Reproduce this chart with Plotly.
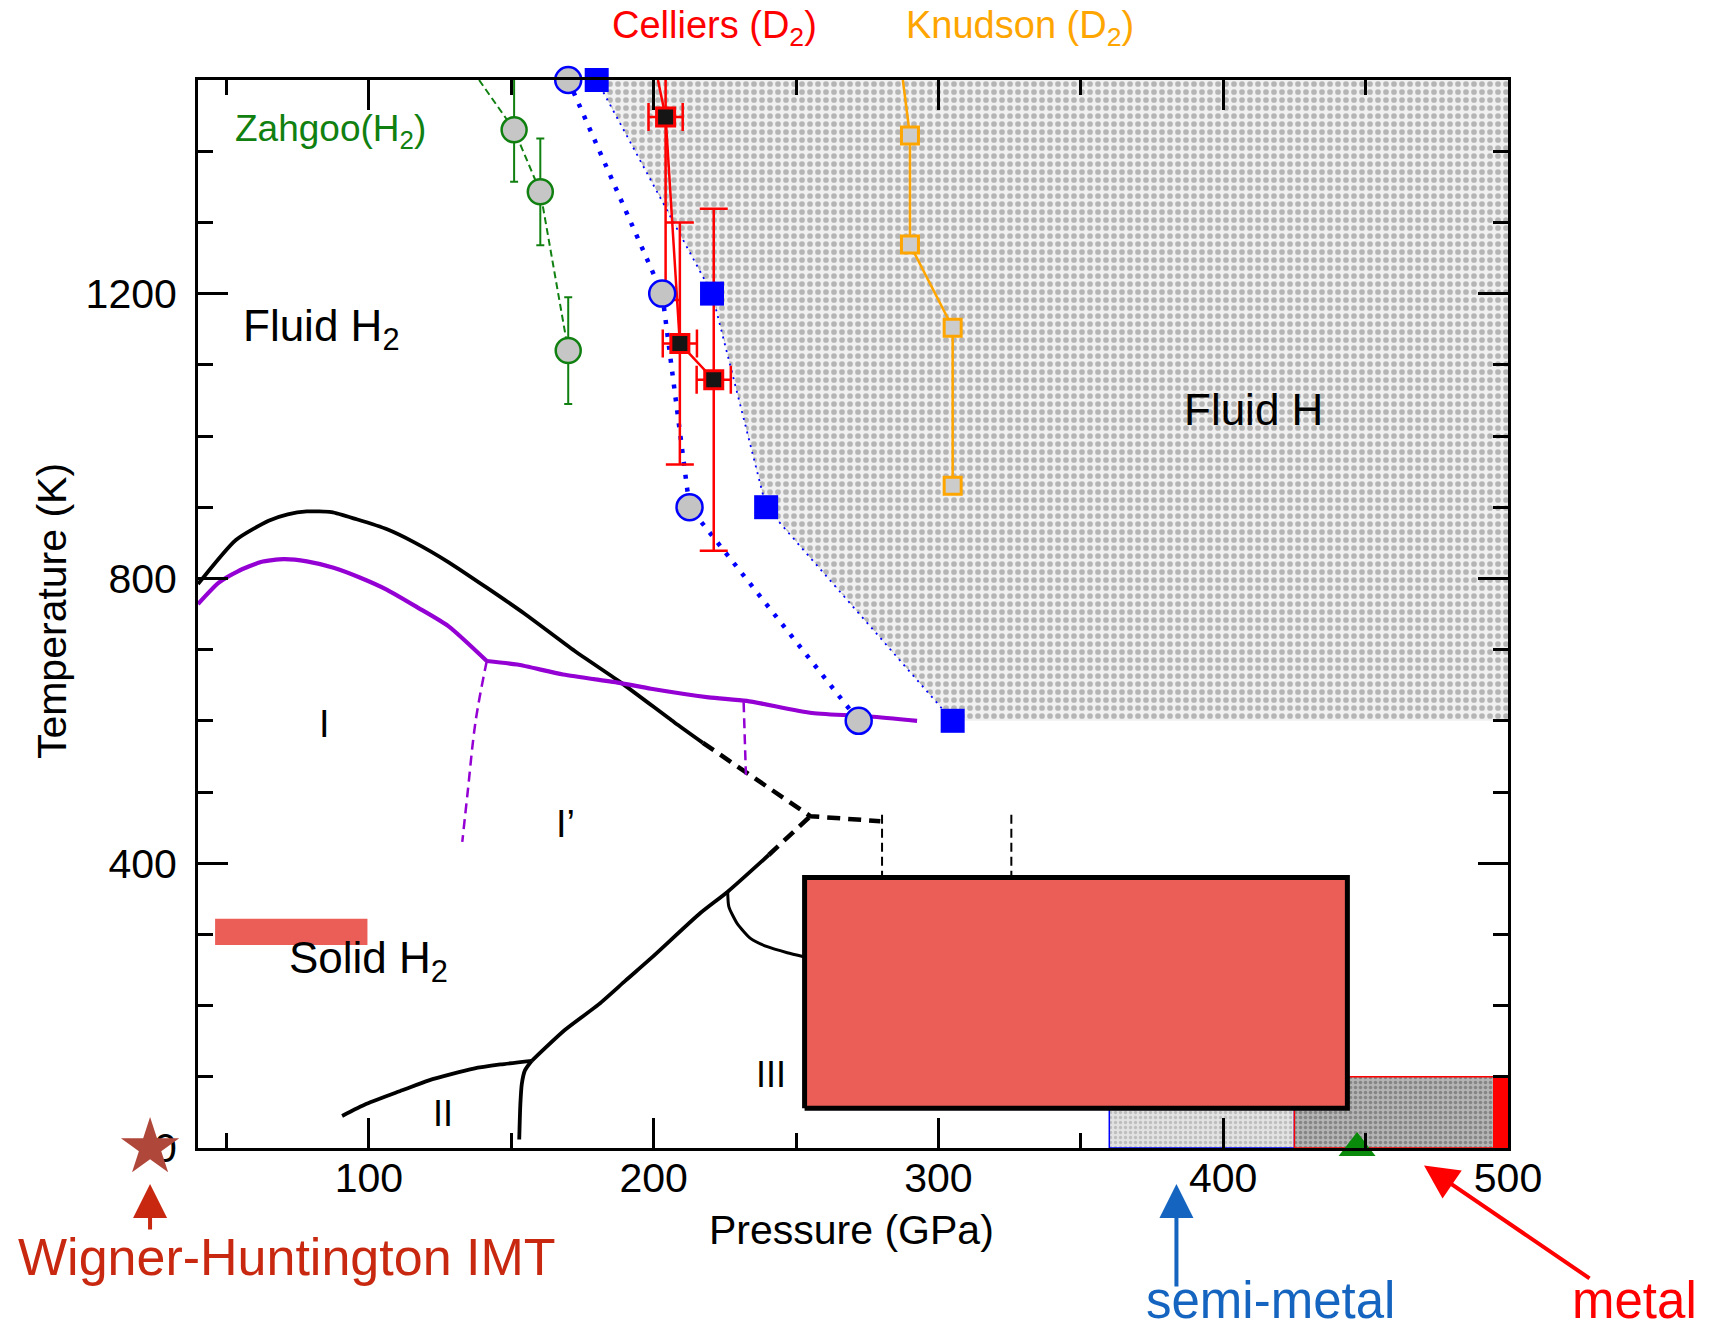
import plotly.graph_objects as go

# ---------------- axes ----------------
x_range = [40, 500]
y_range = [0, 1500]
x_ticks = [100, 200, 300, 400, 500]
x_minor = [50, 150, 250, 350, 450]
y_ticks = [0, 400, 800, 1200]
y_minor = [100, 200, 300, 500, 600, 700, 900, 1000, 1100, 1300, 1400]

# ---------------- data ----------------
# blue squares (atomic fluid boundary) and blue circles
sq_P = [180, 220.5, 239.5, 305]
sq_T = [1500, 1200, 900, 600]
circ_P = [170, 203, 212.6, 272]
circ_T = [1500, 1200, 900, 600]

# Fluid H region corners (right part of the plot above 600 K)
fluidH_P = [500, 500]
fluidH_T = [600, 1500]

# Zahgoo (H2)
zah_P = [151, 160.2, 170]
zah_T = [1430, 1343, 1120]
zah_err = [73, 75, 75]
zah_line_P = [138.7, 151, 160.2, 170]
zah_line_T = [1500, 1430, 1343, 1120]

# Celliers (D2)
cel_P = [204.2, 209.2, 221.1]
cel_T = [1448, 1130, 1079]
cel_errT = [257, 170, 240]
cel_errP = [6, 6, 6]
cel_line_P = [201.5, 204.2, 209.2, 221.1]
cel_line_T = [1500, 1448, 1130, 1079]

# Knudson (D2)
knu_P = [290, 290, 305, 305]
knu_T = [1422, 1269, 1152, 930]
knu_line_P = [287.5, 290, 290, 305, 305]
knu_line_T = [1500, 1422, 1269, 1152, 930]

# melting line (black)
melt_P = [40, 53.3, 64.8, 71.5, 78.2, 86.9, 95.7, 106.4, 115.8, 127.9, 141.4, 154.8, 172.3, 188.4, 207.2, 217.3]
melt_T = [792, 854, 881, 890, 894, 893, 883, 869, 851, 823, 787, 750, 698, 654, 598, 569]
melt_dash_P = [217.3, 255, 279.6]
melt_dash_T = [569, 466, 459]

# I-III boundary
i3_P = [157.2, 168.9, 180.7, 190.1, 199.5, 216.4, 226, 240.4]
i3_T = [122.5, 166, 201.7, 235, 268, 330, 360, 411.5]
i3_dash_P = [240.4, 255]
i3_dash_T = [411.5, 466]
# branch into the box
br_P = [226, 226.4, 229.3, 234, 239.9, 246.9, 252.7]
br_T = [360, 339, 315.6, 294.5, 282.7, 274.3, 268.7]
# II upper boundary
ii_P = [90.6, 99.2, 111.7, 121.1, 136.8, 146.2, 157.2]
ii_T = [45, 62, 81, 95, 111.5, 117.3, 122.5]
# II-III boundary
ii3_P = [157.2, 154.8, 153.7, 153.2, 152.8]
ii3_T = [122.5, 109, 90, 62, 12]
# vertical dashed lines
v1_P = [280.2, 280.2]
v2_P = [325.6, 325.6]
v_T = [468, 381]

# purple lines (two solid parts joined at the kink)
pur1_P = [40, 47.3, 54, 62.1, 70.1, 78.2, 87.6, 97, 106.4, 117.2, 127.9, 141.4]
pur1_T = [764, 794, 810, 823, 827, 824, 815, 801, 784, 759, 733, 684]
pur2_P = [141.4, 152.1, 168.2, 188.4, 199.1, 219.3, 232.7, 255.6, 276, 292.5]
pur2_T = [684, 679, 665, 653, 645, 633, 628, 611, 606, 600]
pd1_P = [141.4, 137.5, 134.7, 132.8]
pd1_T = [684, 600, 500, 430]
pd2_P = [231.6, 232.4]
pd2_T = [626, 524]

# boxes
box_P = [253, 443.6]
box_T = [56, 380]
sbox_P = [46, 99.5]
sbox_T = [285, 322]
semi_P = [360, 425]
metal_P = [425, 495]
strip_P = [495, 500]
band_T = [0, 100]

# special markers
tri_P = [447]
tri_T = [0]
# Wigner-Huntington star (paper position, it sits left of the axis)
wh_xpaper = [-0.0366]
wh_ypaper = [0.002]

FONT = "Liberation Sans, Arial, sans-serif"


def rect(px, py):
    return [px[0], px[1], px[1], px[0], px[0]], [py[0], py[0], py[1], py[1], py[0]]


fig = go.Figure()

# Fluid H region
fig.add_trace(go.Scatter(
    x=sq_P + fluidH_P, y=sq_T + fluidH_T, mode="lines", fill="toself",
    fillcolor="#e0e0e0", line=dict(width=0),
    fillpattern=dict(shape=".", fgcolor="#7a7a7a", bgcolor="#f0f0f0", size=8, solidity=0.4),
    hoverinfo="skip"))

# bottom-right regions
rx, ry = rect(semi_P, band_T)
fig.add_trace(go.Scatter(x=rx, y=ry, mode="lines", fill="toself", fillcolor="#dcdcdc",
                         fillpattern=dict(shape=".", fgcolor="#9a9a9a", bgcolor="#e2e2e2", size=5, solidity=0.35),
                         line=dict(color="blue", width=1.5), hoverinfo="skip"))
rx, ry = rect(metal_P, band_T)
fig.add_trace(go.Scatter(x=rx, y=ry, mode="lines", fill="toself", fillcolor="#a8a8a8",
                         fillpattern=dict(shape=".", fgcolor="#555555", bgcolor="#b4b4b4", size=5, solidity=0.4),
                         line=dict(color="red", width=1.5), hoverinfo="skip"))
rx, ry = rect(strip_P, band_T)
fig.add_trace(go.Scatter(x=rx, y=ry, mode="lines", fill="toself", fillcolor="red",
                         line=dict(color="red", width=1), hoverinfo="skip"))

# black phase lines
blk = dict(color="black", width=3.8, shape="spline", smoothing=0.6)
blkd = dict(color="black", width=4.5, dash="13px,8px")
fig.add_trace(go.Scatter(x=melt_P, y=melt_T, mode="lines", line=blk))
fig.add_trace(go.Scatter(x=melt_dash_P, y=melt_dash_T, mode="lines", line=blkd))
fig.add_trace(go.Scatter(x=i3_P, y=i3_T, mode="lines", line=blk))
fig.add_trace(go.Scatter(x=i3_dash_P, y=i3_dash_T, mode="lines", line=blkd))
fig.add_trace(go.Scatter(x=br_P, y=br_T, mode="lines",
                         line=dict(color="black", width=3, shape="spline", smoothing=0.6)))
fig.add_trace(go.Scatter(x=ii_P, y=ii_T, mode="lines", line=blk))
fig.add_trace(go.Scatter(x=ii3_P, y=ii3_T, mode="lines", line=blk))
fig.add_trace(go.Scatter(x=v1_P, y=v_T, mode="lines", line=dict(color="black", width=2, dash="9px,5px")))
fig.add_trace(go.Scatter(x=v2_P, y=v_T, mode="lines", line=dict(color="black", width=2, dash="9px,5px")))

# purple lines
pur = dict(color="#9400D3", width=4.2, shape="spline", smoothing=0.6)
fig.add_trace(go.Scatter(x=pur1_P, y=pur1_T, mode="lines", line=pur))
fig.add_trace(go.Scatter(x=pur2_P, y=pur2_T, mode="lines", line=pur))
fig.add_trace(go.Scatter(x=pd1_P, y=pd1_T, mode="lines",
                         line=dict(color="#9400D3", width=2.5, dash="10px,6px", shape="spline")))
fig.add_trace(go.Scatter(x=pd2_P, y=pd2_T, mode="lines", line=dict(color="#9400D3", width=2.5, dash="10px,6px")))

# blue lines
fig.add_trace(go.Scatter(x=sq_P, y=sq_T, mode="lines", line=dict(color="blue", width=1.8, dash="2px,5px")))
fig.add_trace(go.Scatter(x=circ_P, y=circ_T, mode="lines", line=dict(color="blue", width=4.5, dash="4px,9px")))

# Zahgoo
fig.add_trace(go.Scatter(x=zah_line_P, y=zah_line_T, mode="lines",
                         line=dict(color="#108010", width=2, dash="7px,4px")))
fig.add_trace(go.Scatter(x=zah_P, y=zah_T, mode="markers",
                         marker=dict(symbol="circle", size=25, color="#c6c6c6",
                                     line=dict(color="#108010", width=2.5)),
                         error_y=dict(type="data", array=zah_err, color="#108010", thickness=2, width=4)))

# Knudson
fig.add_trace(go.Scatter(x=knu_line_P, y=knu_line_T, mode="lines",
                         line=dict(color="#FFA500", width=2.5)))
fig.add_trace(go.Scatter(x=knu_P, y=knu_T, mode="markers",
                         marker=dict(symbol="square", size=17, color="#cccccc",
                                     line=dict(color="#FFA500", width=3))))

# Celliers
fig.add_trace(go.Scatter(x=cel_line_P, y=cel_line_T, mode="lines",
                         line=dict(color="red", width=2.5)))
fig.add_trace(go.Scatter(x=cel_P, y=cel_T, mode="markers",
                         marker=dict(symbol="square", size=18, color="#151515",
                                     line=dict(color="red", width=3)),
                         error_y=dict(type="data", array=cel_errT, color="red", thickness=2.5, width=14),
                         error_x=dict(type="data", array=cel_errP, color="red", thickness=2.5, width=14)))

# blue markers
fig.add_trace(go.Scatter(x=circ_P, y=circ_T, mode="markers", cliponaxis=False,
                         marker=dict(symbol="circle", size=26, color="#c4c4c4",
                                     line=dict(color="blue", width=2.5))))
fig.add_trace(go.Scatter(x=sq_P, y=sq_T, mode="markers", cliponaxis=False,
                         marker=dict(symbol="square", size=24, color="blue",
                                     line=dict(color="blue", width=0))))

# boxes on top
rx, ry = rect(sbox_P, sbox_T)
fig.add_trace(go.Scatter(x=rx, y=ry, mode="lines", fill="toself", fillcolor="#EB5E58",
                         line=dict(width=0), hoverinfo="skip"))
rx, ry = rect(box_P, box_T)
fig.add_trace(go.Scatter(x=rx, y=ry, mode="lines", fill="toself", fillcolor="#EB5E58",
                         line=dict(color="black", width=5), hoverinfo="skip"))

# green triangle
fig.add_trace(go.Scatter(x=tri_P, y=tri_T, mode="markers", cliponaxis=False,
                         marker=dict(symbol="triangle-up", size=32, color="#0A8A0A", line=dict(width=0))))

# ---------------- annotations ----------------
ann = []


def txt(x, y, s, size, color="black", xref="x", yref="y", xanchor="center", yanchor="middle", family=FONT):
    ann.append(dict(x=x, y=y, xref=xref, yref=yref, text=s, showarrow=False,
                    font=dict(family=family, size=size, color=color),
                    xanchor=xanchor, yanchor=yanchor))


txt(55, 1150, "Fluid H<sub>2</sub>", 44, xanchor="left")
txt(410.7, 1037, "Fluid H", 44)
txt(84.3, 596, "I", 38)
txt(169, 455, "I’", 38)
txt(71.3, 262, "Solid H<sub>2</sub>", 44, xanchor="left")
txt(126, 49, "II", 36)
txt(241.3, 103, "III", 36)
txt(52.2, 1428, "Zahgoo(H<sub>2</sub>)", 37, color="#108010", xanchor="left")
txt(221.5, 1.049, "Celliers (D<sub>2</sub>)", 38, color="red", yref="paper")
txt(328.7, 1.049, "Knudson (D<sub>2</sub>)", 38, color="#FFA500", yref="paper")

# Wigner-Huntington star marker
txt(wh_xpaper[0], wh_ypaper[0], "★", 76, color="#B0473B", xref="paper", yref="paper",
    family="DejaVu Sans")

# axis titles
txt(0.4987, -0.0768, "Pressure (GPa)", 41, xref="paper", yref="paper")
ann.append(dict(x=-0.1118, y=0.5023, xref="paper", yref="paper", text="Temperature (K)",
                showarrow=False, textangle=-90, font=dict(family=FONT, size=41, color="black"),
                xanchor="center", yanchor="middle"))

# bottom labels
txt(0.0683, -0.102, "Wigner-Huntington IMT", 52, color="#C8280F", xref="paper", yref="paper")
txt(0.8185, -0.143, "semi-metal", 51, color="#1565C0", xref="paper", yref="paper")
txt(1.0966, -0.143, "metal", 51, color="red", xref="paper", yref="paper")

# arrows
for hx, hy, ax, ay, col in [(-0.0366, -0.0337, 0, 47, "#C8280F"),
                            (0.7469, -0.0337, 0, 104, "#1565C0"),
                            (0.9359, -0.0163, 167, 114, "red")]:
    ann.append(dict(x=hx, y=hy, xref="paper", yref="paper", ax=ax, ay=ay, axref="pixel", ayref="pixel",
                    text="", showarrow=True, arrowhead=2, arrowsize=1.7, arrowwidth=4, arrowcolor=col,
                    standoff=0, startstandoff=0))

axis_common = dict(ticks="inside", tickwidth=2.5, tickcolor="black", showline=True, linewidth=3,
                   linecolor="black", mirror="ticks", showgrid=False, zeroline=False,
                   tickfont=dict(family=FONT, size=41, color="black"))

fig.update_layout(
    width=1711, height=1330,
    margin=dict(l=198, r=203, t=80, b=182),
    plot_bgcolor="white", paper_bgcolor="white",
    showlegend=False,
    font=dict(family=FONT, color="black"),
    annotations=ann,
    xaxis=dict(range=x_range, tickvals=x_ticks, ticklen=30, ticklabelstandoff=-8,
               minor=dict(tickvals=x_minor, ticks="inside", ticklen=15, tickwidth=2.5,
                          tickcolor="black", showgrid=False),
               **axis_common),
    yaxis=dict(range=y_range, tickvals=y_ticks, ticklen=30, ticklabelstandoff=10,
               minor=dict(tickvals=y_minor, ticks="inside", ticklen=15, tickwidth=2.5,
                          tickcolor="black", showgrid=False),
               **axis_common),
)

fig.write_html("out.html")
